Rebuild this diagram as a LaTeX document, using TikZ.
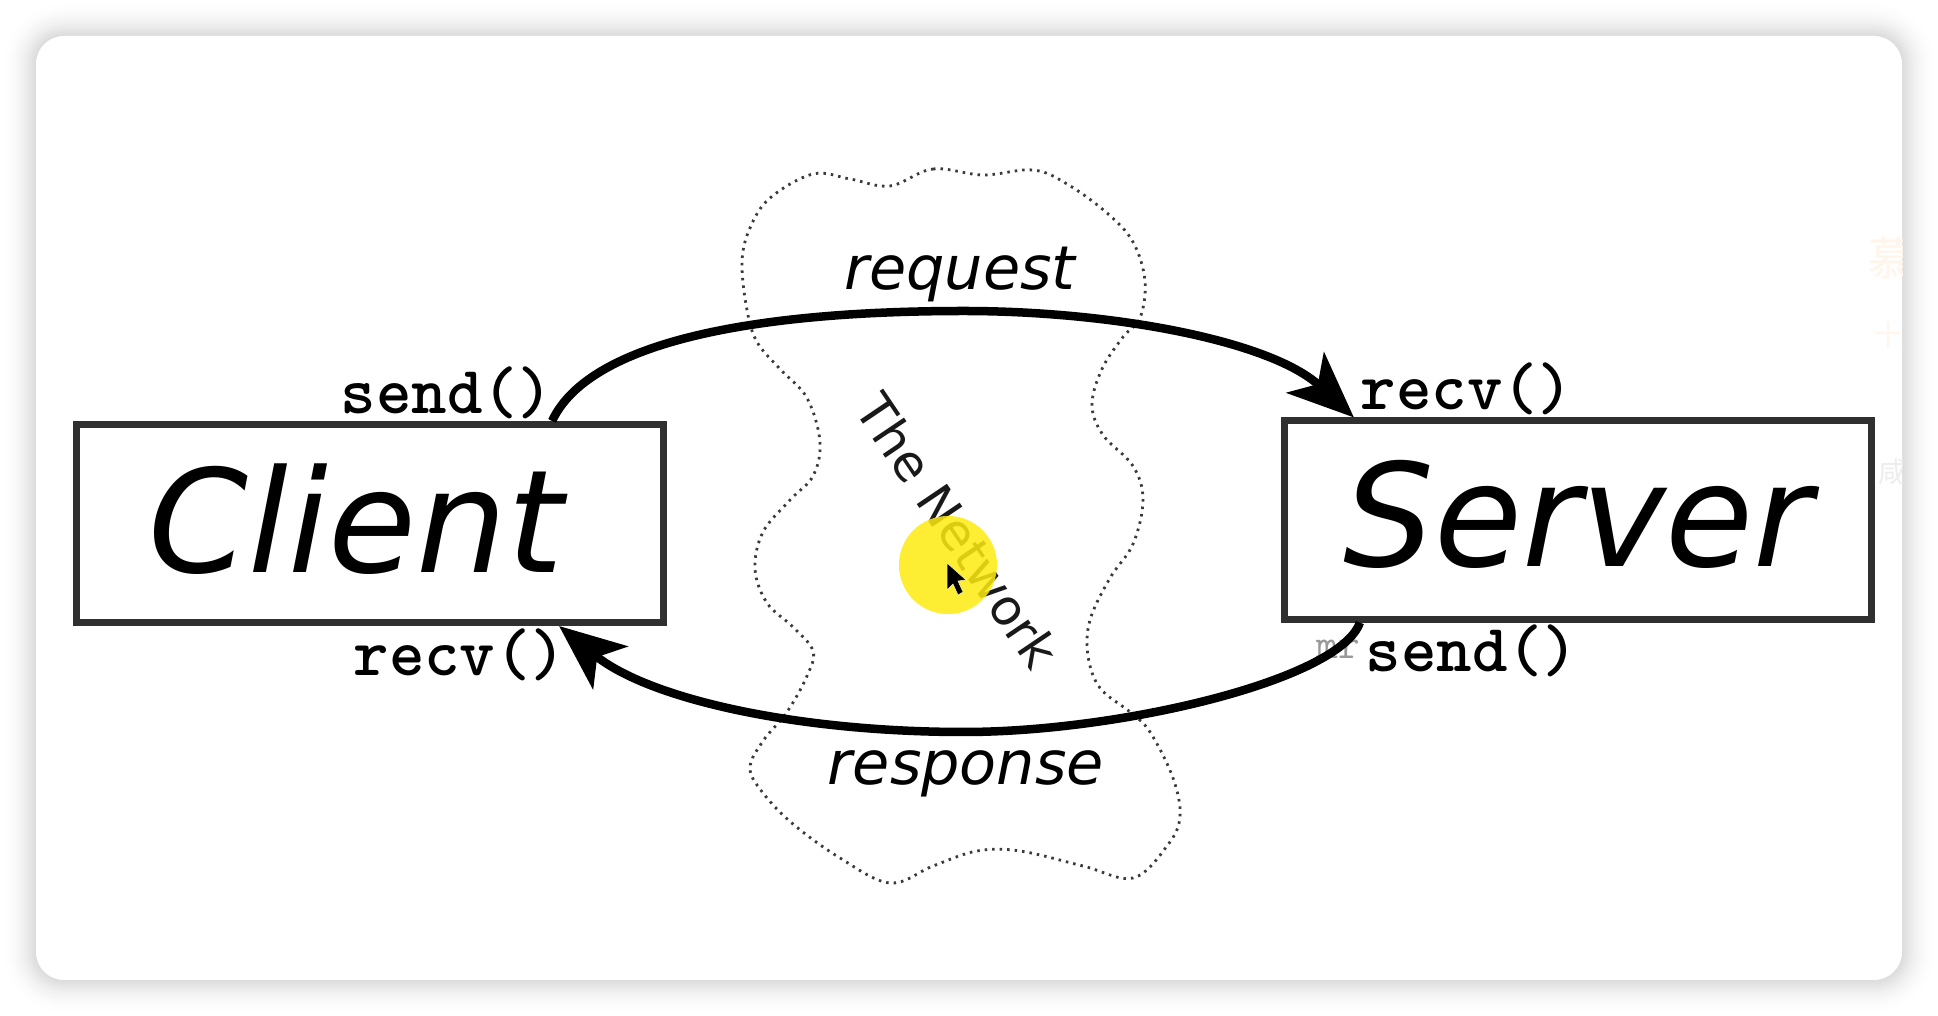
\documentclass[tikz,border=0pt]{standalone}
\usepackage{fontspec}
\setmainfont{DejaVu Sans}
\newfontfamily\cjkfont{Noto Sans CJK SC}
\usetikzlibrary{arrows.meta}
\definecolor{edgegray}{HTML}{303030}
\definecolor{dotgray}{HTML}{3A3A3A}
\definecolor{spotyellow}{HTML}{FDEB10}
\tikzset{
  hostbox/.style={draw=edgegray,line width=0.07cm,minimum width=5.86cm,minimum height=1.98cm,inner sep=0pt,font=\fontsize{40.7}{44}\selectfont\itshape},
  flowline/.style={line width=0.085cm,-{Stealth[length=0.66cm,width=0.55cm,inset=0.17cm]}},
  calltext/.style={font=\fontsize{19.2}{21}\ttfamily\bfseries,inner sep=0pt},
  msgtext/.style={font=\fontsize{17.2}{20}\selectfont\itshape,inner sep=0pt},
  netline/.style={dotgray,line width=0.028cm,dash pattern=on 0.025cm off 0.05cm}
}
\begin{document}
\begin{tikzpicture}[x=0.01cm,y=-0.01cm]
\useasboundingbox(0,0)rectangle(1938,1016);
\fill[white](0,0)rectangle(1938,1016);
% window shadow
\foreach \s in {36,34,...,2}  {
  \pgfmathsetmacro\rad{(28+\s)*0.01}
  \pgfmathsetmacro\shade{15*(1-\s/36)*(1-\s/36)}
  \fill[black!\shade,rounded corners=\rad cm](36-\s,36-\s)rectangle(1902+\s,980+\s);
}
\fill[white,rounded corners=0.28cm](36,36)rectangle(1902,980);
% faint marks at the window edge
\begin{scope}
\clip(1800,100)rectangle(1902,600);
\node[text=orange!8,font=\fontsize{13}{14}\cjkfont,inner sep=0pt](markone)at(1891,258){慕};
\node[text=orange!7,font=\fontsize{8}{9}\cjkfont,inner sep=0pt](marktwo)at(1889,335){十};
\node[text=black!7,font=\fontsize{8}{9}\cjkfont,inner sep=0pt](markthree)at(1893,472){咸};
\end{scope}
% the network
\draw[netline]plot[smooth cycle,tension=0.6]coordinates{
  (890,186)(933,169)(983,175)(1033,170)(1067,184)(1107,213)(1133,242)(1145,281)
  (1140,318)(1123,337)(1102,369)(1092,405)(1103,435)(1133,466)(1143,500)(1133,544)
  (1110,578)(1090,620)(1088,656)(1100,688)(1130,712)(1150,732)(1173,778)(1180,817)
  (1167,846)(1133,878)(1083,866)(1020,851)(977,851)(933,866)(890,883)(840,858)
  (793,824)(763,793)(750,768)(763,741)(787,712)(807,676)(813,651)(793,627)
  (767,603)(755,569)(763,532)(790,500)(813,476)(820,442)(807,398)(780,369)
  (757,342)(747,310)(742,262)(750,228)(770,198)(813,174)(850,179)};
\node[font=\fontsize{14.2}{18}\selectfont,rotate=-56,inner sep=0pt,text=black!90](network)at(958,531){The Network};
\node[circle,fill=spotyellow,fill opacity=0.85,minimum size=0.98cm,inner sep=0pt](spot)at(948,565){};
\fill[black,draw=white!70!spotyellow,line width=0.005cm](947,563)--(947,590)--(953,584)--(958,595)--(963,592)--(958,581)--(966,580)--cycle;
% hosts
\node[hostbox](client)at(370,523.5){\raisebox{0.11cm}{Client}\kern0.28cm\relax};
\node[hostbox](server)at(1578,520){\raisebox{0.14cm}{Server}};
% calls
\node[calltext](clientsend)at(447,393){send()};
\node[calltext](clientrecv)at(460,655){recv()};
\node[calltext](serverrecv)at(1467,389){recv()};
\node[calltext](serversend)at(1472,651){send()};
\node[calltext,text=black!40,font=\fontsize{12}{14}\ttfamily](ghost)at(1338,649){mr};
% messages
\node[msgtext](request)at(960,275){request};
\node[msgtext](response)at(966,774){response};
\coordinate(reqtop)at(964,311);
\coordinate(resbot)at(964,732);
\draw[flowline]([xshift=1.82cm]client.north)..controls(590,340)and(760,311)..(reqtop)
  ..controls(1110,311)and(1270,340)..([xshift=-2.24cm]server.north);
\draw[flowline]([xshift=-2.18cm]server.south)..controls(1340,680)and(1120,732)..(resbot)
  ..controls(800,732)and(650,700)..([xshift=1.89cm]client.south);
\end{tikzpicture}
\end{document}
